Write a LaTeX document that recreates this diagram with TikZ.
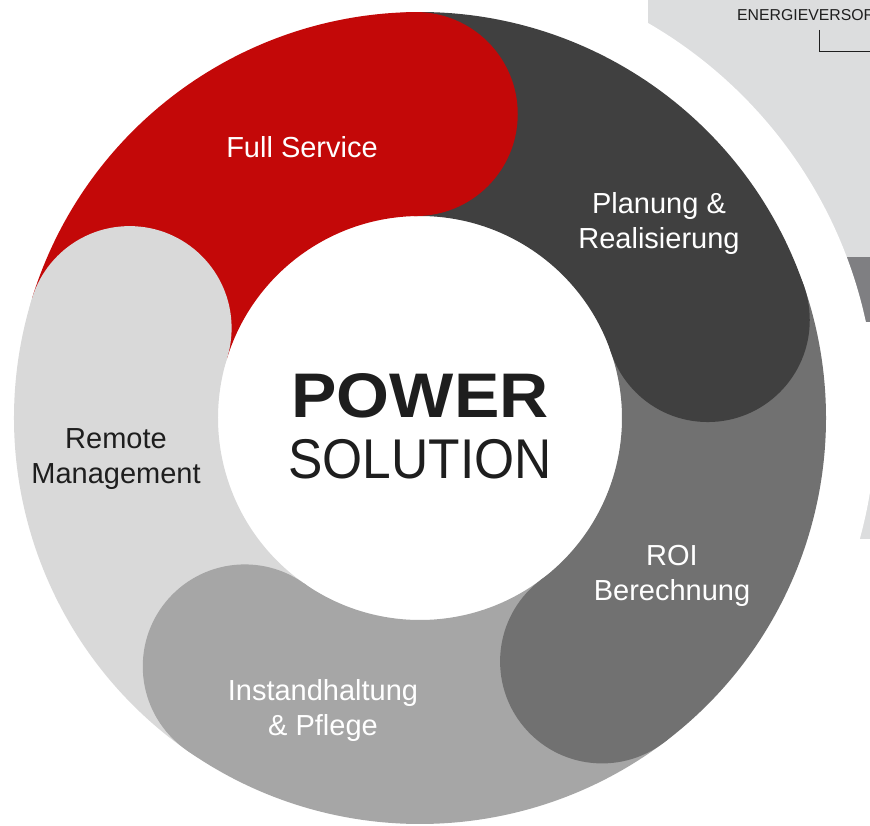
\documentclass[tikz,border=0pt]{standalone}
\usepackage{fontspec}
\setmainfont{Liberation Sans}
\usepackage{graphicx}
\definecolor{cRed}{HTML}{C30808}
\definecolor{cDark}{HTML}{404040}
\definecolor{cMid}{HTML}{717171}
\definecolor{cLmid}{HTML}{A6A6A6}
\definecolor{cLight}{HTML}{D9D9D9}
\definecolor{cBg}{HTML}{DCDDDE}
\definecolor{cBgDark}{HTML}{7F7F82}
\definecolor{cText}{HTML}{1E1E1E}
\tikzset{
  lbl/.style={inner sep=0pt, align=center, font=\fontsize{29}{35}\selectfont},
  bigtxt/.style={inner sep=0pt, anchor=base, text=cText},
}
\begin{document}
\begin{tikzpicture}[x=1pt,y=1pt]
\useasboundingbox (-420,-407) rectangle (450,418);
% background fragments of the neighbouring slide
\fill[cBg] (228,418) rectangle (450,161);
\fill[cBgDark] (228,161) rectangle (450,96);
\fill[cBg] (228,-60) rectangle (450,-121);
\fill[white] (0,0) circle[radius=456];
\node[inner sep=0pt, anchor=base west, text=cText, font=\fontsize{15.8}{18}\selectfont] (ev) at (317,397) {ENERGIEVERSOR};
\coordinate (b1) at (399,388);
\coordinate (b2) at (399,367);
\coordinate (b3) at (451,367);
\draw[cText, line width=0.8pt] (b1) -- (b2) -- (b3);
% ring bodies
\foreach \a/\b/\c in {162.8/90.8/cRed, 90.8/18.8/cDark, 18.8/-53.2/cMid, -53.2/-125.2/cLmid, -125.2/-197.2/cLight}
  \fill[\c] (\a:406) arc[start angle=\a, end angle=\b, radius=406] -- (\b:202) arc[start angle=\b, end angle=\a, radius=202] -- cycle;
% rounded heads
\foreach \b/\c in {90.8/cRed, 18.8/cDark, -53.2/cMid, -125.2/cLmid, -197.2/cLight}
  \fill[\c] (\b:304) circle[radius=102];
% labels
\node[lbl, text=white] (fs) at (-118,271) {Full Service};
\node[lbl, text=white] (pr) at (239,194) {Planung \&\\Realisierung};
\node[lbl, text=white] (roi) at (252,-158) {ROI\\Berechnung};
\node[lbl, text=white] (ip) at (-97,-292) {Instandhaltung\\\& Pflege};
\node[lbl, text=cText] (rm) at (-304,-41) {Remote\\Management};
\node[bigtxt, font=\fontsize{63}{70}\selectfont\bfseries] (pw) at (0,1) {\scalebox{1.08}[1]{POWER}};
\node[bigtxt, font=\fontsize{56}{60}\selectfont] (so) at (0,-60) {\scalebox{0.92}[1]{SOLUTION}};
\end{tikzpicture}
\end{document}
